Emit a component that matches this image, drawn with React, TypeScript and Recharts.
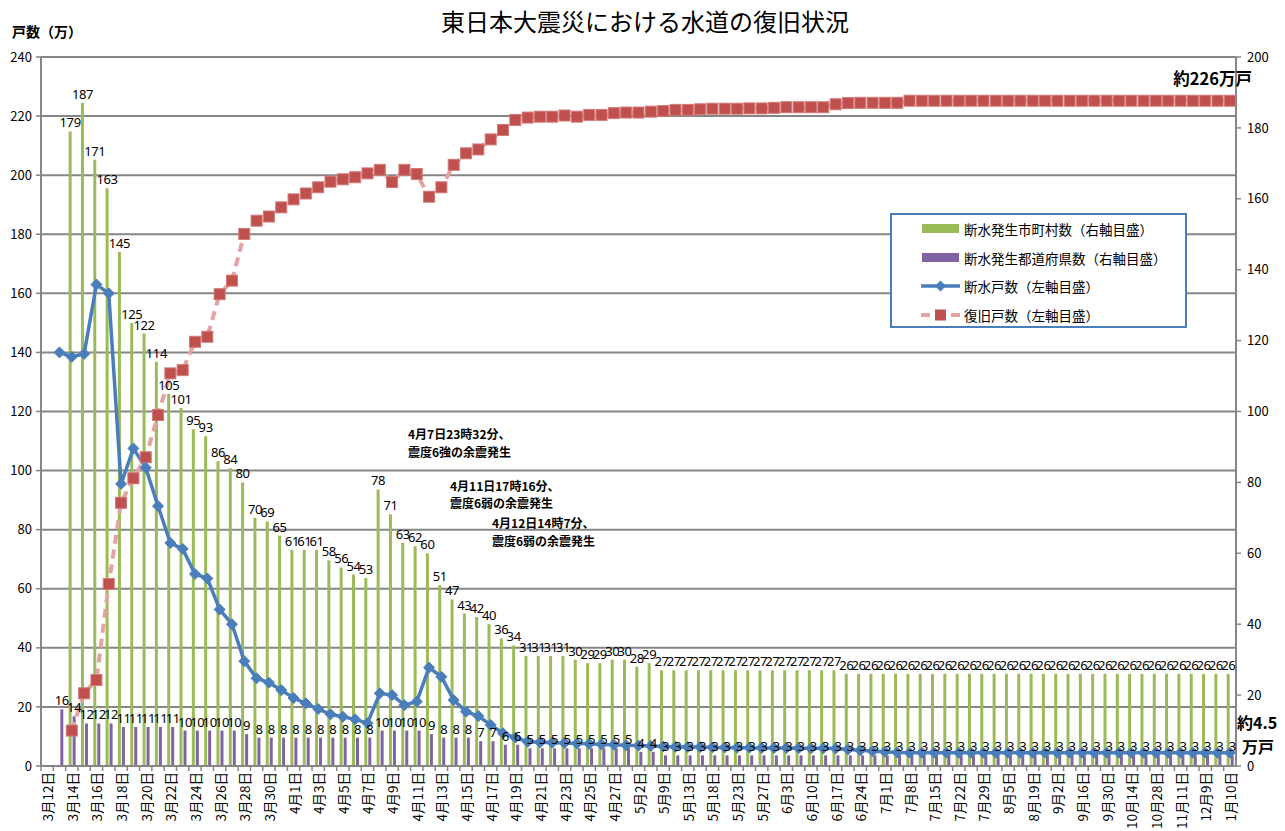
import React from "react";
import {
  ComposedChart,
  Bar,
  Line,
  XAxis,
  YAxis,
  CartesianGrid,
  LabelList,
  Legend,
} from "recharts";

// Tick labels shown on every other category (index 0, 2, 4, ...)
const tickLabels = [
  "3月12日", "3月14日", "3月16日", "3月18日", "3月20日", "3月22日", "3月24日", "3月26日", "3月28日", "3月30日",
  "4月1日", "4月3日", "4月5日", "4月7日", "4月9日", "4月11日", "4月13日", "4月15日", "4月17日", "4月19日",
  "4月21日", "4月23日", "4月25日", "4月27日", "5月2日", "5月9日", "5月13日", "5月18日", "5月23日", "5月27日",
  "6月3日", "6月10日", "6月17日", "6月24日", "7月1日", "7月8日", "7月15日", "7月22日", "7月29日", "8月5日",
  "8月19日", "9月2日", "9月16日", "9月30日", "10月14日", "10月28日", "11月11日", "12月9日", "1月10日",
];

// 断水発生市町村数 (right axis)
const municipalities: (number | null)[] = [
  null, null,
  179, 187, 171, 163, 145, 125, 122, 114, 105, 101, 95, 93, 86, 84, 80, 70, 69, 65,
  61, 61, 61, 58, 56, 54, 53, 78, 71, 63, 62, 60, 51, 47, 43, 42, 40, 36, 34, 31,
  31, 31, 31, 30, 29, 29, 30, 30, 28, 29,
  27, 27, 27, 27, 27, 27, 27, 27, 27, 27, 27, 27, 27, 27, 27,
  26, 26, 26, 26, 26, 26, 26, 26, 26, 26, 26, 26, 26, 26, 26, 26,
  26, 26, 26, 26, 26, 26, 26, 26, 26, 26, 26, 26, 26, 26, 26, 26,
];

// 断水発生都道府県数 (right axis)
const prefectures: (number | null)[] = [
  null, 16, 14, 12, 12, 12, 11, 11, 11, 11, 11, 10, 10, 10, 10, 10, 9,
  8, 8, 8, 8, 8, 8, 8, 8, 8, 8, 10, 10, 10, 10, 9, 8, 8, 8, 7, 7, 6, 6,
  5, 5, 5, 5, 5, 5, 5, 5, 5, 4, 4,
  3, 3, 3, 3, 3, 3, 3, 3, 3, 3, 3, 3, 3, 3, 3, 3, 3, 3, 3, 3, 3, 3, 3, 3,
  3, 3, 3, 3, 3, 3, 3, 3, 3, 3, 3, 3, 3, 3, 3, 3, 3, 3, 3, 3, 3, 3, 3,
];

// 断水戸数 (left axis, 万戸)
const cutoffHouseholds: (number | null)[] = [
  null, 140, 138.5, 139.5, 163, 160, 95.5, 107.5, 101, 88, 75.5, 73.5, 65, 63.5, 53, 48,
  35.5, 29.7, 28.2, 25.7, 23, 21.2, 19.3, 17.5, 16.7, 15.8, 14.5, 24.6, 24.0, 20.6, 21.8,
  33.3, 30.2, 22.3, 18.4, 16.9, 13.9, 11.1, 9.6, 8.2, 8.0, 7.9, 7.8, 7.6, 7.5, 7.3, 7.2,
  7.0, 6.9, 6.8,
  6.6, 6.5, 6.4, 6.4, 6.3, 6.3, 6.2, 6.2, 6.1, 6.1, 6.1, 6.0, 6.0, 6.0, 5.9,
  5.6, 5.3, 5.0, 4.8, 4.6,
  4.5, 4.5, 4.5, 4.5, 4.5, 4.5, 4.5, 4.5, 4.5, 4.5, 4.5, 4.5, 4.5, 4.5,
  4.5, 4.5, 4.5, 4.5, 4.5, 4.5, 4.5, 4.5, 4.5, 4.5, 4.5, 4.5, 4.5,
];

// 復旧戸数 (left axis, 万戸)
const restoredHouseholds: (number | null)[] = [
  null, null,
  12, 24.6, 29.1, 61.6, 89.1, 97.4, 104.5, 118.8, 132.9, 134, 143.6, 145.3, 159.7, 164.3,
  180.1, 184.6, 186, 189.1, 191.8, 193.8, 195.9, 197.8, 198.6, 199.3, 200.6, 201.8, 197.7,
  201.8, 200.4, 192.7, 195.9, 203.5, 207.4, 208.7, 212.1, 215.3, 218.7, 219.5, 219.8, 219.8,
  220.2, 219.8, 220.4, 220.4, 221, 221.2, 221.2, 221.5, 221.7, 222.1, 222.1, 222.3, 222.5,
  222.5, 222.5, 222.6, 222.6, 222.8, 223, 223, 223, 223, 224, 224.4,
  224.5, 224.5, 224.5, 224.5,
  225.2, 225.2, 225.2, 225.2, 225.2, 225.2, 225.2, 225.2, 225.2, 225.2, 225.2, 225.2, 225.2, 225.2,
  225.2, 225.2, 225.2, 225.2, 225.2, 225.2, 225.2, 225.2, 225.2, 225.2, 225.2, 225.2, 225.2,
];

const leftTicks = [0, 20, 40, 60, 80, 100, 120, 140, 160, 180, 200, 220, 240];
const rightTicks = [0, 20, 40, 60, 80, 100, 120, 140, 160, 180, 200];

const data = municipalities.map((m, i) => ({
  label: i % 2 === 0 ? tickLabels[i / 2] : "",
  muni: m,
  pref: prefectures[i],
  cut: cutoffHouseholds[i],
  rest: restoredHouseholds[i],
}));

const FONT = "'Noto Sans CJK JP', 'Noto Sans', sans-serif";
const GRID = "#868686";
const GREEN = "#9bbb59";
const PURPLE = "#8064a2";
const BLUE = "#4a7ebb";
const RED = "#c0504d";
const PINK = "#e3a3a2";

const XTick = (props: any) => {
  const { x, y, payload } = props;
  const half = payload && typeof payload.offset === "number" && payload.offset > 0 ? payload.offset : 6.16;
  return (
    <g>
      <line x1={x - half} x2={x - half} y1={y} y2={y + 5} stroke={GRID} strokeWidth={1.5} />
      {payload.value ? (
        <text
          transform={`translate(${x},${y + 6}) rotate(-90)`}
          textAnchor="end"
          dominantBaseline="central"
          fontSize={13.5}
          fontFamily={FONT}
          fill="#000"
        >
          {payload.value}
        </text>
      ) : null}
    </g>
  );
};

const DiamondDot = (props: any) => {
  const { cx, cy, value, index } = props;
  if (cx == null || cy == null || value == null) return <g key={`d${index}`} />;
  const r = 5.5;
  return (
    <polygon
      key={`d${index}`}
      points={`${cx},${cy - r} ${cx + r},${cy} ${cx},${cy + r} ${cx - r},${cy}`}
      fill={BLUE}
      stroke={BLUE}
      strokeWidth={1}
    />
  );
};

const SquareDot = (props: any) => {
  const { cx, cy, value, index } = props;
  if (cx == null || cy == null || value == null) return <g key={`s${index}`} />;
  const s = 11;
  return (
    <rect
      key={`s${index}`}
      x={cx - s / 2}
      y={cy - s / 2}
      width={s}
      height={s}
      fill={RED}
      stroke="#d27a78"
      strokeWidth={1}
    />
  );
};

const legendItems = [
  { name: "断水発生市町村数（右軸目盛）", kind: "bar", color: GREEN },
  { name: "断水発生都道府県数（右軸目盛）", kind: "bar", color: PURPLE },
  { name: "断水戸数（左軸目盛）", kind: "diamond", color: BLUE },
  { name: "復旧戸数（左軸目盛）", kind: "square", color: RED },
];

const renderLegend = () => (
  <div
    style={{
      width: 293,
      height: 111,
      border: `2px solid ${BLUE}`,
      background: "#fff",
      boxSizing: "content-box",
      position: "relative",
      fontFamily: FONT,
    }}
  >
    {legendItems.map((it, i) => (
      <div
        key={it.name}
        style={{
          position: "absolute",
          left: 29,
          top: 3 + i * 28.5,
          height: 22,
          display: "flex",
          alignItems: "center",
          whiteSpace: "nowrap",
        }}
      >
        <svg width={40} height={14} style={{ marginRight: 3 }}>
          {it.kind === "bar" && <rect x={1} y={2} width={37} height={9} fill={it.color} />}
          {it.kind === "diamond" && (
            <g>
              <line x1={0} x2={39} y1={7} y2={7} stroke={BLUE} strokeWidth={3.5} />
              <polygon points="19.5,1.5 25,7 19.5,12.5 14,7" fill={BLUE} />
            </g>
          )}
          {it.kind === "square" && (
            <g>
              <line x1={0} x2={39} y1={7} y2={7} stroke={PINK} strokeWidth={4} strokeDasharray="9 6" />
              <rect x={14} y={1.5} width={11} height={11} fill={RED} />
            </g>
          )}
        </svg>
        <span style={{ fontSize: 13.5, color: "#000" }}>{it.name}</span>
      </div>
    ))}
  </div>
);

const labelStyle = { fontSize: 13, fill: "#000", fontFamily: "'Noto Sans', sans-serif", letterSpacing: -0.4 };

export default function App() {
  return (
    <div style={{ position: "absolute", left: 0, top: 0, width: 1285, height: 831, background: "#fff", overflow: "hidden" }}>
      <ComposedChart
        width={1285}
        height={831}
        data={data}
        margin={{ top: 57, right: 0, bottom: 0, left: 0 }}
        barGap={1}
      >
        <CartesianGrid yAxisId="left" vertical={false} horizontal stroke={GRID} strokeWidth={2} />
        <XAxis
          dataKey="label"
          interval={0}
          height={65}
          tickSize={0}
          tickMargin={0}
          tickLine={false}
          tick={<XTick />}
          axisLine={{ stroke: GRID, strokeWidth: 2 }}
        />
        <YAxis
          yAxisId="left"
          domain={[0, 240]}
          ticks={leftTicks}
          width={41}
          tickSize={5}
          tickMargin={4}
          axisLine={{ stroke: GRID, strokeWidth: 2 }}
          tickLine={{ stroke: GRID, strokeWidth: 1.5 }}
          tick={{ fontSize: 13, fill: "#000", fontFamily: FONT }}
          allowDataOverflow
        />
        <YAxis
          yAxisId="right"
          orientation="right"
          domain={[0, 200]}
          ticks={rightTicks}
          width={49}
          tickSize={5}
          tickMargin={6}
          axisLine={{ stroke: GRID, strokeWidth: 2 }}
          tickLine={{ stroke: GRID, strokeWidth: 1.5 }}
          tick={{ fontSize: 13, fill: "#000", fontFamily: FONT }}
          allowDataOverflow
        />
        <Bar dataKey="muni" yAxisId="right" fill={GREEN} barSize={3} isAnimationActive={false} name="断水発生市町村数（右軸目盛）">
          <LabelList dataKey="muni" position="top" offset={4} {...labelStyle} />
        </Bar>
        <Bar dataKey="pref" yAxisId="right" fill={PURPLE} barSize={3} isAnimationActive={false} name="断水発生都道府県数（右軸目盛）">
          <LabelList dataKey="pref" position="top" offset={4} {...labelStyle} />
        </Bar>
        <Line
          dataKey="rest"
          yAxisId="left"
          stroke={PINK}
          strokeWidth={4}
          strokeDasharray="9 6"
          dot={<SquareDot />}
          activeDot={false}
          isAnimationActive={false}
          name="復旧戸数（左軸目盛）"
        />
        <Line
          dataKey="cut"
          yAxisId="left"
          stroke={BLUE}
          strokeWidth={3.5}
          dot={<DiamondDot />}
          activeDot={false}
          isAnimationActive={false}
          name="断水戸数（左軸目盛）"
        />
        <Legend
          content={renderLegend}
          layout="vertical"
          align="center"
          verticalAlign="middle"
          wrapperStyle={{ position: "absolute", left: 890, top: 213, width: 297, height: 115, bottom: "auto", right: "auto" }}
        />
      </ComposedChart>

      <svg
        width={1285}
        height={831}
        style={{ position: "absolute", left: 0, top: 0, pointerEvents: "none" }}
        fontFamily={FONT}
      >
        <text x={645} y={20} textAnchor="middle" dominantBaseline="central" fontSize={24} fill="#000">
          東日本大震災における水道の復旧状況
        </text>
        <text x={12} y={31} dominantBaseline="central" fontSize={14} fontWeight="bold" fill="#000">
          戸数（万）
        </text>
        <text x={1252} y={78} textAnchor="end" dominantBaseline="central" fontSize={16.5} fontWeight="bold" fill="#000">
          約226万戸
        </text>
        <text x={1237} y={722} dominantBaseline="central" fontSize={16} fontWeight="bold" fill="#000">
          約4.5
        </text>
        <text x={1242} y={746} dominantBaseline="central" fontSize={16} fontWeight="bold" fill="#000">
          万戸
        </text>
        <g fontSize={12} fontWeight="bold" fill="#000">
          <text x={408} y={433} dominantBaseline="central">4月7日23時32分、</text>
          <text x={408} y={451} dominantBaseline="central">震度6強の余震発生</text>
          <text x={450} y={485} dominantBaseline="central">4月11日17時16分、</text>
          <text x={450} y={502} dominantBaseline="central">震度6弱の余震発生</text>
          <text x={492} y={522} dominantBaseline="central">4月12日14時7分、</text>
          <text x={492} y={540} dominantBaseline="central">震度6弱の余震発生</text>
        </g>
      </svg>
    </div>
  );
}
